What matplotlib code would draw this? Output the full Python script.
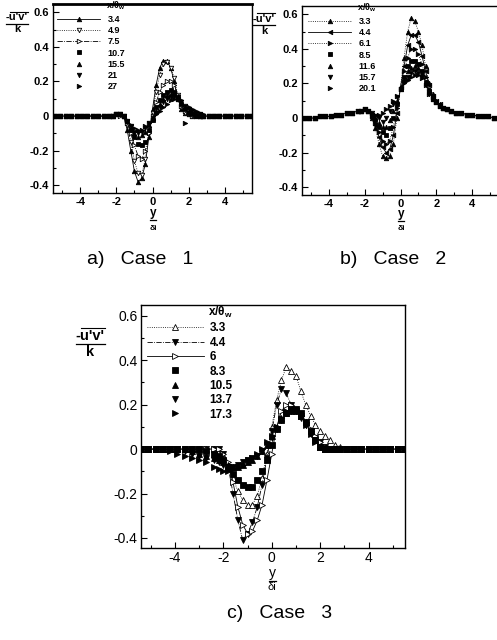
import matplotlib
matplotlib.use('Agg')
import matplotlib.pyplot as plt
from matplotlib.ticker import MultipleLocator, FixedLocator
from matplotlib.lines import Line2D

plt.rcParams['font.family'] = ['Liberation Sans', 'DejaVu Sans']
plt.rcParams['mathtext.fontset'] = 'dejavusans'
plt.rcParams['mathtext.default'] = 'regular'

# ---------------- data ----------------
x_grid = [-5.4, -5.1, -4.8, -4.5, -4.2, -3.9, -3.6, -3.3, -3.0, -2.7,
          -2.4, -2.2, -2.0, -1.8, -1.6, -1.4, -1.2, -1.0, -0.8, -0.6, -0.4, -0.2,
          0.0, 0.2, 0.4, 0.6, 0.8, 1.0, 1.2, 1.4, 1.6, 1.8, 2.0, 2.2, 2.4, 2.6, 2.8,
          3.1, 3.4, 3.7, 4.0, 4.3, 4.6, 4.9, 5.2, 5.5]

# Case 1
case1_labels = ['3.4', '4.9', '7.5', '10.7', '15.5', '21', '27']
c1_34 = [0, 0, 0, 0, 0, 0, 0, 0, 0, 0,
         0, 0, 0.01, 0.01, 0.0, -0.08, -0.2, -0.32, -0.38, -0.36, -0.28, -0.12, 0.04, 0.18, 0.28, 0.32, 0.32, 0.28, 0.2, 0.1, 0.04, 0.02, 0.01, 0, 0, 0, 0,
         0, 0, 0, 0, 0, 0, 0, 0, 0]
c1_49 = [0, 0, 0, 0, 0, 0, 0, 0, 0, 0,
         0, 0, 0.01, 0.01, 0.0, -0.05, -0.15, -0.26, -0.33, -0.34, -0.25, -0.1, 0.02, 0.14, 0.24, 0.3, 0.31, 0.28, 0.22, 0.12, 0.05, 0.02, 0.01, 0, 0, 0, 0,
         0, 0, 0, 0, 0, 0, 0, 0, 0]
c1_75 = [0, 0, 0, 0, 0, 0, 0, 0, 0, 0,
         0, 0, 0.01, 0.0, 0.0, -0.04, -0.1, -0.17, -0.23, -0.25, -0.2, -0.1, 0.0, 0.08, 0.14, 0.18, 0.2, 0.2, 0.18, 0.12, 0.06, 0.03, 0.01, 0, 0, 0, 0,
         0, 0, 0, 0, 0, 0, 0, 0, 0]
c1_107 = [0, 0, 0, 0, 0, 0, 0, 0, 0, 0,
          0, 0, 0.01, 0.01, 0.0, -0.03, -0.08, -0.12, -0.16, -0.17, -0.15, -0.08, -0.02, 0.05, 0.09, 0.12, 0.14, 0.15, 0.14, 0.11, 0.07, 0.04, 0.02, 0.01, 0, 0, 0,
          0, 0, 0, 0, 0, 0, 0, 0, 0]
c1_155 = [0, 0, 0, 0, 0, 0, 0, 0, 0, 0,
          0, 0, 0.01, 0.01, 0.0, -0.03, -0.07, -0.1, -0.12, -0.11, -0.09, -0.05, -0.01, 0.03, 0.07, 0.1, 0.12, 0.13, 0.13, 0.11, 0.08, 0.05, 0.03, 0.02, 0.01, 0, 0,
          0, 0, 0, 0, 0, 0, 0, 0, 0]
c1_21 = [0, 0, 0, 0, 0, 0, 0, 0, 0, 0,
         0, 0, 0.01, 0.01, 0.0, -0.03, -0.06, -0.09, -0.1, -0.09, -0.07, -0.04, -0.01, 0.02, 0.05, 0.08, 0.1, 0.11, 0.11, 0.1, 0.08, 0.06, 0.04, 0.03, 0.02, 0.01, 0,
         0, 0, 0, 0, 0, 0, 0, 0, 0]
c1_27 = [0, 0, 0, 0, 0, 0, 0, 0, 0, 0,
         0, 0, 0.01, 0.01, 0.0, -0.02, -0.05, -0.07, -0.08, -0.08, -0.06, -0.04, -0.02, 0.01, 0.03, 0.05, 0.07, 0.09, 0.1, 0.1, 0.09, -0.04, 0.05, 0.04, 0.03, 0.02, 0.01,
         0, 0, 0, 0, 0, 0, 0, 0, 0]

# Case 2
case2_labels = ['3.3', '4.4', '6.1', '8.5', '11.6', '15.7', '20.1']
c2_33 = [0, 0, 0.0, 0.01, 0.01, 0.01, 0.02, 0.02, 0.03, 0.03,
         0.04, 0.04, 0.05, 0.04, 0.0, -0.06, -0.15, -0.22, -0.23, -0.22, -0.15, 0.0, 0.18, 0.35, 0.5, 0.58, 0.56, 0.5, 0.42, 0.3, 0.2, 0.14, 0.1, 0.08, 0.06, 0.05, 0.04,
         0.03, 0.03, 0.02, 0.02, 0.01, 0.01, 0.01, 0, 0]
c2_44 = [0, 0, 0.0, 0.01, 0.01, 0.01, 0.02, 0.02, 0.03, 0.03,
         0.04, 0.04, 0.05, 0.04, 0.01, -0.04, -0.11, -0.17, -0.2, -0.18, -0.1, 0.03, 0.18, 0.3, 0.42, 0.48, 0.48, 0.44, 0.36, 0.27, 0.19, 0.13, 0.1, 0.08, 0.06, 0.05, 0.04,
         0.03, 0.03, 0.02, 0.02, 0.01, 0.01, 0.01, 0, 0]
c2_61 = [0, 0, 0.0, 0.01, 0.01, 0.01, 0.02, 0.02, 0.03, 0.03,
         0.04, 0.04, 0.05, 0.04, 0.01, -0.03, -0.08, -0.13, -0.15, -0.13, -0.05, 0.06, 0.17, 0.27, 0.35, 0.4, 0.4, 0.37, 0.31, 0.24, 0.17, 0.12, 0.09, 0.07, 0.06, 0.05, 0.04,
         0.03, 0.03, 0.02, 0.02, 0.01, 0.01, 0.01, 0, 0]
c2_85 = [0, 0, 0.0, 0.01, 0.01, 0.01, 0.02, 0.02, 0.03, 0.03,
         0.04, 0.04, 0.05, 0.04, 0.02, -0.01, -0.05, -0.08, -0.1, -0.06, 0.0, 0.08, 0.17, 0.24, 0.3, 0.33, 0.33, 0.31, 0.27, 0.21, 0.15, 0.11, 0.09, 0.07, 0.06, 0.05, 0.04,
         0.03, 0.03, 0.02, 0.02, 0.01, 0.01, 0.01, 0, 0]
c2_116 = [0, 0, 0.0, 0.01, 0.01, 0.01, 0.02, 0.02, 0.03, 0.03,
          0.04, 0.04, 0.05, 0.04, 0.02, 0.0, -0.03, -0.05, -0.05, -0.01, 0.04, 0.1, 0.17, 0.22, 0.27, 0.29, 0.3, 0.29, 0.26, 0.2, 0.15, 0.11, 0.09, 0.07, 0.06, 0.05, 0.04,
          0.03, 0.03, 0.02, 0.02, 0.01, 0.01, 0.01, 0, 0]
c2_157 = [0, 0, 0.0, 0.01, 0.01, 0.01, 0.02, 0.02, 0.03, 0.03,
          0.04, 0.04, 0.05, 0.04, 0.03, 0.01, 0.0, -0.02, 0.0, 0.04, 0.08, 0.12, 0.17, 0.21, 0.24, 0.26, 0.27, 0.26, 0.24, 0.19, 0.14, 0.11, 0.09, 0.07, 0.06, 0.05, 0.04,
          0.03, 0.03, 0.02, 0.02, 0.01, 0.01, 0.01, 0, 0]
c2_201 = [0, 0, 0.0, 0.01, 0.01, 0.01, 0.02, 0.02, 0.03, 0.03,
          0.04, 0.04, 0.05, 0.04, 0.03, 0.02, 0.02, 0.03, 0.05, 0.07, 0.1, 0.13, 0.17, 0.2, 0.22, 0.24, 0.25, 0.25, 0.23, 0.19, 0.14, 0.11, 0.09, 0.07, 0.06, 0.05, 0.04,
          0.03, 0.03, 0.02, 0.02, 0.01, 0.01, 0.01, 0, 0]

# Case 3
case3_labels = ['3.3', '4.4', '6', '8.3', '10.5', '13.7', '17.3']
c3_33 = [0, 0, 0, 0, 0, 0, 0, 0, 0, 0,
         0, -0.01, -0.03, -0.07, -0.13, -0.19, -0.23, -0.25, -0.25, -0.21, -0.13, -0.02, 0.1, 0.22, 0.31, 0.37, 0.35, 0.33, 0.26, 0.2, 0.15, 0.11, 0.08, 0.06, 0.04, 0.02, 0.01,
         0, 0, 0, 0, 0, 0, 0, 0, 0]
c3_44 = [0, 0, 0, 0, 0, 0, 0, 0, 0, 0,
         0, 0, -0.02, -0.08, -0.2, -0.32, -0.41, -0.38, -0.33, -0.26, -0.16, -0.04, 0.08, 0.2, 0.27, 0.25, 0.2, 0.17, 0.14, 0.11, 0.08, 0.05, 0.03, 0.01, 0, 0, 0,
         0, 0, 0, 0, 0, 0, 0, 0, 0]
c3_6 = [0, 0, 0, 0, 0, 0, 0, 0, 0, 0,
        0, 0, -0.02, -0.06, -0.15, -0.26, -0.34, -0.38, -0.37, -0.32, -0.25, -0.14, -0.02, 0.1, 0.17, 0.2, 0.2, 0.18, 0.15, 0.12, 0.09, 0.06, 0.03, 0.01, 0, 0, 0,
        0, 0, 0, 0, 0, 0, 0, 0, 0]
c3_83 = [0, 0, 0, 0, 0, 0, 0, 0, 0, -0.01,
         -0.02, -0.03, -0.05, -0.08, -0.11, -0.14, -0.16, -0.17, -0.17, -0.14, -0.1, -0.05, 0.02, 0.09, 0.13, 0.16, 0.18, 0.18, 0.16, 0.12, 0.08, 0.04, 0.01, 0, 0, 0, 0,
         0, 0, 0, 0, 0, 0, 0, 0, 0]
c3_105 = [0, 0, 0, 0, 0, 0, 0, -0.01, -0.02, -0.03,
          -0.04, -0.05, -0.06, -0.07, -0.08, -0.08, -0.07, -0.06, -0.05, -0.03, -0.01, 0.02, 0.06, 0.1, 0.14, 0.16, 0.17, 0.17, 0.15, 0.12, 0.08, 0.04, 0.01, 0, 0, 0, 0,
          0, 0, 0, 0, 0, 0, 0, 0, 0]
c3_137 = [0, 0, 0, 0, 0, 0, -0.01, -0.02, -0.03, -0.04,
          -0.05, -0.06, -0.07, -0.08, -0.08, -0.07, -0.06, -0.05, -0.04, -0.03, -0.01, 0.02, 0.05, 0.09, 0.13, 0.16, 0.17, 0.17, 0.15, 0.11, 0.07, 0.04, 0.01, 0, 0, 0, 0,
          0, 0, 0, 0, 0, 0, 0, 0, 0]
c3_173 = [0, 0, 0, 0, -0.01, -0.02, -0.03, -0.04, -0.05, -0.06,
          -0.08, -0.09, -0.1, -0.1, -0.09, -0.08, -0.07, -0.05, -0.04, -0.02, 0.0, 0.03, 0.06, 0.1, 0.14, 0.17, 0.18, 0.18, 0.15, 0.11, 0.07, 0.03, 0.01, 0, 0, 0, 0,
          0, 0, 0, 0, 0, 0, 0, 0, 0]

x_ticks = [-4, -2, 0, 2, 4]
y_ticks = [-0.4, -0.2, 0, 0.2, 0.4, 0.6]
y_ticklabels = ['-0.4', '-0.2', '0', '0.2', '0.4', '0.6']
x_ticklabels = ['-4', '-2', '0', '2', '4']

# ---------------- figure ----------------
W, H = 497, 640
fig = plt.figure(figsize=(W / 100, H / 100), dpi=100)


def fx(px):
    return px / W


def fy(py):
    return 1 - py / H


def px_rect(l, t, r, b):
    return [l / W, 1 - b / H, (r - l) / W, (b - t) / H]


frac_jobs = []


def frac(cx, num_y, bar_y, den_y, num, den, fs_num, fs_den, weight, overline):
    tn = fig.text(fx(cx), fy(num_y), num, ha='center', va='center',
                  fontsize=fs_num, fontweight=weight)
    fig.text(fx(cx), fy(den_y), den, ha='center', va='center',
             fontsize=fs_den, fontweight=weight)
    frac_jobs.append((tn, bar_y, overline, fs_num, weight))


def panel(rect, xlim, series, labels, styles, fs, ms, leg_anchor, leg_fs,
          leg_hl, leg_ls, leg_tp, bold_ticks, pad):
    ax = fig.add_axes(px_rect(*rect))
    for ys, lab, (mk, ls, filled) in zip(series, labels, styles):
        ax.plot(x_grid, ys, linestyle=ls if ls else 'none', linewidth=0.6,
                color='black', marker=mk, markersize=ms,
                markerfacecolor='black' if filled else 'white',
                markeredgecolor='black', markeredgewidth=0.6, label=lab)
    ax.set_xlim(*xlim)
    ax.set_ylim(-0.445, 0.648)
    ax.xaxis.set_major_locator(FixedLocator(x_ticks))
    ax.yaxis.set_major_locator(FixedLocator(y_ticks))
    ax.xaxis.set_minor_locator(MultipleLocator(1))
    ax.yaxis.set_minor_locator(MultipleLocator(0.1))
    ax.set_xticklabels(x_ticklabels)
    ax.set_yticklabels(y_ticklabels)
    ax.tick_params(which='both', direction='in', top=False, right=False,
                   labelsize=fs, pad=pad, width=0.8)
    ax.tick_params(which='major', length=4)
    ax.tick_params(which='minor', length=2)
    if bold_ticks:
        for t in ax.get_xticklabels() + ax.get_yticklabels():
            t.set_fontweight('bold')
    for s in ax.spines.values():
        s.set_linewidth(1.0)
    ax.legend(loc='upper left', bbox_to_anchor=(fx(leg_anchor[0]), fy(leg_anchor[1])),
              bbox_transform=fig.transFigure, frameon=False,
              title=r'x/$\theta_w$', title_fontproperties={'size': leg_fs, 'weight': 'bold'},
              prop={'size': leg_fs, 'weight': 'bold'}, handlelength=leg_hl,
              labelspacing=leg_ls, handletextpad=leg_tp, borderpad=0,
              borderaxespad=0, alignment='right', numpoints=1)
    return ax


styles1 = [('^', '-', True), ('v', ':', False), ('>', '-.', False),
           ('s', None, True), ('^', None, True), ('v', None, True), ('>', None, True)]
styles2 = [('^', ':', True), ('<', '-', True), ('>', ':', True),
           ('s', None, True), ('^', None, True), ('v', None, True), ('>', None, True)]
styles3 = [('^', ':', False), ('v', '-.', True), ('>', '-', False),
           ('s', None, True), ('^', None, True), ('v', None, True), ('>', None, True)]

axa = panel((53, 4, 252, 193), (-5.5, 5.5),
            [c1_34, c1_49, c1_75, c1_107, c1_155, c1_21, c1_27], case1_labels, styles1,
            8, 3.2, (57, 0), 6.5, 4.8, 0.25, 0.8, True, 3)
axb = panel((302, 6, 499, 195), (-5.5, 5.5),
            [c2_33, c2_44, c2_61, c2_85, c2_116, c2_157, c2_201], case2_labels, styles2,
            8, 3.2, (308, 2), 6.5, 4.8, 0.25, 0.8, True, 3)
axa.spines['top'].set_linewidth(2.0)
axc = panel((141, 305, 405, 548), (-5.4, 5.5),
            [c3_33, c3_44, c3_6, c3_83, c3_105, c3_137, c3_173], case3_labels, styles3,
            10, 4.5, (147, 305), 8.5, 4.8, 0.2, 0.5, False, 2.5)

# axis labels as stacked fractions
NUM_Y = "-u'v'"
frac(17, 17.5, 23.5, 29, NUM_Y, 'k', 8, 8, 'bold', True)
frac(264, 18.5, 25, 31.5, NUM_Y, 'k', 8, 8, 'bold', True)
frac(90, 336, 343.5, 351.5, NUM_Y, 'k', 10.5, 10.5, 'bold', True)
frac(153, 213, 220, 228, 'y', '\u03b4i', 8.5, 6, 'bold', False)
frac(401, 214, 221, 229, 'y', '\u03b4i', 8.5, 6, 'bold', False)
frac(272, 573, 580.5, 587, 'y', '\u03b4i', 10, 8, 'normal', False)

fig.text(fx(140), fy(259), 'a)   Case   1', ha='center', va='center', fontsize=14)
fig.text(fx(393), fy(259), 'b)   Case   2', ha='center', va='center', fontsize=14)
fig.text(fx(280), fy(614), 'c)   Case   3', ha='center', va='center', fontsize=14)

# add fraction bars / overlines measured from the rendered text
fig.canvas.draw()
renderer = fig.canvas.get_renderer()
for tn, bar_y, overline, fs_num, weight in frac_jobs:
    bb = tn.get_window_extent(renderer)
    x0 = bb.x0 / W
    x1 = bb.x1 / W
    fig.add_artist(Line2D([x0, x1], [fy(bar_y), fy(bar_y)], transform=fig.transFigure,
                          color='black', linewidth=0.9))
    if overline:
        tm = fig.text(0, 0, '-', fontsize=fs_num, fontweight=weight)
        mw = tm.get_window_extent(renderer).width
        tm.remove()
        top = bb.y1 / H + 1.0 / H
        fig.add_artist(Line2D([(bb.x0 + mw) / W, x1], [top, top], transform=fig.transFigure,
                              color='black', linewidth=0.8))

fig.savefig('out.png', dpi=100)
